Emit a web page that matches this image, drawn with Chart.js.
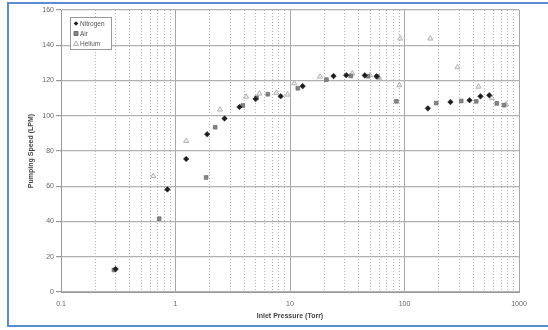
<!DOCTYPE html>
<html>
<head>
<meta charset="utf-8">
<title>Pumping Speed vs Inlet Pressure</title>
<script src="https://cdn.jsdelivr.net/npm/chart.js@4/dist/chart.umd.min.js"></script>
<style>
  html, body { margin: 0; padding: 0; background: #fff; overflow: hidden; }
  #wrap { position: relative; width: 548px; height: 330px; }
  #frame { position: absolute; left: 7px; top: 2px; width: 600px; height: 325px;
           border: 2px solid #5a8ccf; box-sizing: border-box; pointer-events: none; }
  canvas { position: absolute; left: 0; top: 0; }
</style>
</head>
<body>
<div id="wrap">
  <canvas id="c" width="548" height="330"></canvas>
  <div id="frame"></div>
</div>
<script>
// Inlet pressure (Torr) and pumping speed (LPM) for each gas
const nitrogenP = [0.30, 0.85, 1.24, 1.89, 2.68, 3.62, 5.0, 8.3, 12.9, 24, 31, 45, 57, 160, 252, 370, 461, 550];
const nitrogenS = [13, 58.2, 75.5, 89.5, 98.4, 105, 109.5, 111.1, 116.8, 122.5, 123, 122.9, 122.4, 104.2, 107.8, 108.8, 111, 111.6];

const airP = [0.29, 0.72, 1.85, 2.22, 3.87, 5.1, 6.4, 11.7, 20.8, 34, 48, 58, 85, 189, 313, 423, 640, 740];
const airS = [12.5, 41.6, 65, 93.5, 105.8, 110.2, 112.2, 115.6, 120.5, 122.6, 122.4, 122.2, 108.2, 107.2, 108.4, 108.2, 107, 106];

const heliumP = [0.64, 1.24, 2.45, 4.14, 5.4, 7.6, 9.5, 10.9, 18.3, 35, 50, 60, 90, 91.6, 168, 290, 443, 580, 770];
const heliumS = [65.8, 85.7, 103.5, 110.8, 112.6, 113, 112, 118.4, 122.2, 124, 123, 121.5, 117.3, 143.8, 143.8, 127.5, 116.5, 110, 106.5];

// Axis ticks
const xDecades = [0.1, 1, 10, 100, 1000];
const xTickLabels = ['0.1', '1', '10', '100', '1000'];
const yMin = 0, yMax = 160, yStep = 20;

const pairs = (xs, ys) => xs.map((x, i) => ({ x: x, y: ys[i] }));

// Intermediate log lines (2..9 within every decade)
const minorValues = [];
for (let d = 0; d < xDecades.length - 1; d++) {
  for (let k = 2; k <= 9; k++) minorValues.push(+(xDecades[d] * k).toPrecision(3));
}

const FONT = '"Liberation Sans", Arial, sans-serif';

// Small boxed legend drawn in the upper-left corner of the plot
const boxLegend = {
  id: 'boxLegend',
  afterDraw(chart) {
    const ctx = chart.ctx;
    const area = chart.chartArea;
    const x0 = area.left + 9, y0 = area.top + 7, w = 41, h = 32;
    ctx.save();
    ctx.fillStyle = '#fff';
    ctx.fillRect(x0, y0, w, h);
    ctx.strokeStyle = '#9a9a9a';
    ctx.lineWidth = 1;
    ctx.strokeRect(x0 + 0.5, y0 + 0.5, w, h);
    ctx.font = '6.5px ' + FONT;
    ctx.textBaseline = 'middle';
    chart.data.datasets.forEach((ds, i) => {
      const mx = x0 + 6, my = y0 + 6.5 + i * 10;
      ctx.fillStyle = ds.backgroundColor;
      ctx.strokeStyle = ds.borderColor;
      ctx.lineWidth = 1;
      ctx.beginPath();
      if (ds.pointStyle === 'rectRot') {
        const r = 2.3;
        ctx.moveTo(mx, my - r); ctx.lineTo(mx + r, my); ctx.lineTo(mx, my + r); ctx.lineTo(mx - r, my);
        ctx.closePath(); ctx.fill();
      } else if (ds.pointStyle === 'rect') {
        ctx.rect(mx - 2, my - 2, 4, 4); ctx.fill(); ctx.stroke();
      } else {
        const r = 2.6;
        ctx.moveTo(mx, my - r); ctx.lineTo(mx + r, my + r * 0.8); ctx.lineTo(mx - r, my + r * 0.8);
        ctx.closePath(); ctx.fill(); ctx.stroke();
      }
      ctx.fillStyle = '#555';
      ctx.fillText(ds.label, mx + 4, my + 0.5);
    });
    ctx.restore();
  }
};

new Chart(document.getElementById('c'), {
  type: 'scatter',
  data: {
    datasets: [
      { label: 'Nitrogen', data: pairs(nitrogenP, nitrogenS), pointStyle: 'rectRot',
        pointRadius: 2.8, backgroundColor: '#1e1e1e', borderColor: '#1e1e1e', borderWidth: 0.5 },
      { label: 'Air', data: pairs(airP, airS), pointStyle: 'rect',
        pointRadius: 2.6, backgroundColor: '#858585', borderColor: '#6f6f6f', borderWidth: 0.8 },
      { label: 'Helium', data: pairs(heliumP, heliumS), pointStyle: 'triangle',
        pointRadius: 3, backgroundColor: 'rgba(225,225,225,0.6)', borderColor: '#b4b4b4', borderWidth: 1 }
    ]
  },
  options: {
    responsive: false,
    animation: false,
    layout: { padding: { left: 0, right: 29, top: 10, bottom: 0 } },
    plugins: { legend: { display: false }, tooltip: { enabled: false } },
    scales: {
      x: {
        type: 'logarithmic', position: 'bottom', min: 0.1, max: 1000,
        afterBuildTicks: s => { s.ticks = xDecades.map(v => ({ value: v })); },
        afterFit: s => { s.height = 38; },
        grid: { color: '#a8a8a8', lineWidth: 1, drawTicks: false },
        border: { color: '#9a9a9a' },
        ticks: {
          padding: 8, color: '#666', font: { family: FONT, size: 7 }, maxRotation: 0,
          autoSkip: false,
          callback: (v, i) => xTickLabels[i]
        },
        title: {
          display: true, text: 'Inlet Pressure (Torr)', color: '#444',
          font: { family: FONT, size: 7, weight: 'bold' }, padding: { top: 0, bottom: 10 }
        }
      },
      xMinor: {
        type: 'logarithmic', position: 'bottom', min: 0.1, max: 1000,
        afterBuildTicks: s => { s.ticks = minorValues.map(v => ({ value: v })); },
        afterFit: s => { s.height = 0; },
        grid: { color: '#b4b4b4', lineWidth: 1, drawTicks: false },
        border: { display: false, dash: [1, 2] },
        ticks: { display: false }
      },
      y: {
        min: yMin, max: yMax,
        afterFit: s => { s.width = 61; },
        grid: { color: '#b0b0b0', lineWidth: 1.2, drawTicks: true, tickLength: 5, tickColor: '#999' },
        border: { color: '#9a9a9a' },
        ticks: { stepSize: yStep, padding: 2, color: '#666', font: { family: FONT, size: 7 } },
        title: {
          display: true, text: 'Pumping Speed (LPM)', color: '#444',
          font: { family: FONT, size: 7, weight: 'bold' }, padding: { top: 27, bottom: 0 }
        }
      }
    }
  },
  plugins: [boxLegend]
});
</script>
</body>
</html>
